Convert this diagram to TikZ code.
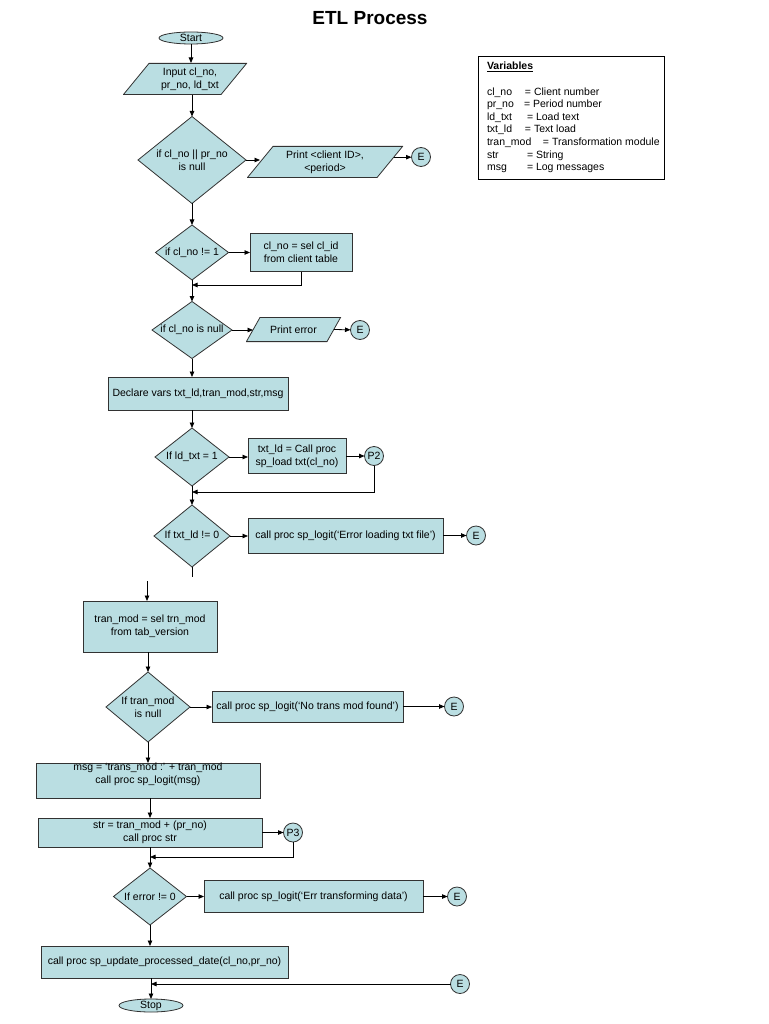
\documentclass[tikz,border=0pt]{standalone}
\usepackage{fontspec}
\setmainfont{Liberation Sans}
\usetikzlibrary{shapes.geometric,arrows.meta,calc}
\definecolor{boxc}{RGB}{186,222,226}
\definecolor{bordc}{RGB}{50,50,50}
\begin{document}
\begin{tikzpicture}[x=1pt,y=-1pt,
  every node/.style={font=\fontsize{10.5}{12.8}\selectfont, inner sep=0pt, outer sep=0pt},
  proc/.style={rectangle, draw=bordc, fill=boxc, line width=0.8pt, align=center},
  dec/.style={diamond, draw=bordc, fill=boxc, line width=0.8pt},
  para/.style={rectangle, align=center, path picture={
    \filldraw[draw=bordc, fill=boxc, line width=0.8pt]
      ($(path picture bounding box.south west)+(0.4,-0.4)$) --
      ($(path picture bounding box.north west)+(#1,0.4)$) --
      ($(path picture bounding box.north east)+(-0.4,0.4)$) --
      ($(path picture bounding box.south east)+(-#1,-0.4)$) -- cycle;}},
  term/.style={ellipse, draw=bordc, fill=boxc, line width=0.8pt},
  conn/.style={circle, draw=bordc, fill=boxc, line width=0.8pt, minimum size=19pt},
  arr/.style={-{Triangle[length=5.5pt,width=4.5pt]}, line width=0.8pt, black},
  ln/.style={line width=0.8pt, black},
  txt/.style={align=center},
  vline/.style={anchor=base west}
]
\useasboundingbox (0,0) rectangle (768,1024);
\fill[white] (0,0) rectangle (768,1024);

\node[font=\bfseries\fontsize{19}{22}\selectfont] (title) at (370,18) {ETL Process};

% variables box
\node[draw=black, line width=0.8pt, fill=white, minimum width=186pt, minimum height=123pt] (vbox) at (571,117.5) {};
\node[vline] (v0) at (487,70) {\underline{\textbf{Variables}}};
\node[vline] (v1) at (487,95.5) {\makebox[38pt][l]{cl\_no}= Client number};
\node[vline] (v2) at (487,108) {\makebox[37pt][l]{pr\_no}= Period number};
\node[vline] (v3) at (487,120.5) {\makebox[40pt][l]{ld\_txt}= Load text};
\node[vline] (v4) at (487,133) {\makebox[38pt][l]{txt\_ld}= Text load};
\node[vline] (v5) at (487,146) {\makebox[56pt][l]{tran\_mod}= Transformation module};
\node[vline] (v6) at (487,158.5) {\makebox[40pt][l]{str}= String};
\node[vline] (v7) at (487,171) {\makebox[40pt][l]{msg}= Log messages};

% flow nodes
\node[term, minimum width=64pt, minimum height=12pt, label={center:Start}] (start) at (191,38) {};
\node[para=26, minimum width=124pt, minimum height=32pt, label={[txt,xshift=5pt]center:Input cl\_no,\\pr\_no, ld\_txt}] (inp) at (185,79) {};
\node[dec, minimum width=108pt, minimum height=87pt, label={[txt]center:if cl\_no || pr\_no\\is null}] (d1) at (192,160) {};
\node[para=26, minimum width=156pt, minimum height=32pt] (pp) at (325,162) {Print <client ID>,\\<period>};
\coordinate (ppL) at ($(pp.west)+(13,0)$);
\coordinate (ppBR) at ($(pp.south east)+(-26,0)$);
\node[conn] (e1) at (421,157) {E};

\node[dec, minimum width=73pt, minimum height=55pt, label={[txt]center:if cl\_no != 1}] (d2) at (192,252.5) {};
\node[proc, minimum width=102pt, minimum height=38pt] (b1) at (301,252.5) {cl\_no = sel cl\_id\\from client table};
\coordinate (j1) at (192,285);

\node[dec, minimum width=80pt, minimum height=57pt, label={[txt]center:if cl\_no is null}] (d3) at (192,330) {};
\node[para=14, minimum width=95pt, minimum height=25pt] (pe) at (293.5,329.5) {Print error};
\coordinate (peL) at ($(pe.west)+(7,0)$);
\coordinate (peR) at ($(pe.east)+(-7,0)$);
\node[conn] (e2) at (360,330) {E};

\node[proc, minimum width=180pt, minimum height=33pt] (decl) at (198,393.5) {Declare vars txt\_ld,tran\_mod,str,msg};

\node[dec, minimum width=74pt, minimum height=58pt, label={[txt]center:If ld\_txt = 1}] (d4) at (192,457) {};
\node[proc, minimum width=98pt, minimum height=35pt] (b2) at (297,456) {txt\_ld = Call proc\\sp\_load txt(cl\_no)};
\node[conn] (p2) at (374,456) {P2};
\coordinate (j2) at (192,492);

\node[dec, minimum width=76pt, minimum height=62pt, label={[txt]center:If txt\_ld != 0}] (d5) at (192,536) {};
\node[proc, minimum width=195pt, minimum height=35pt] (b3) at (345.5,535.5) {call proc sp\_logit(`Error loading txt file')};
\node[conn] (e3) at (476,535.5) {E};
\coordinate (t1) at (192,577);
\coordinate (t2) at (147,581);

\node[proc, minimum width=134pt, minimum height=51pt] (b4) at (150,626.5) {tran\_mod = sel trn\_mod\\from tab\_version};
\node[dec, minimum width=84pt, minimum height=70pt, label={[txt]center:If tran\_mod\\is null}] (d6) at (148,707) {};
\node[proc, minimum width=191pt, minimum height=31pt] (b5) at (307.5,706.5) {call proc sp\_logit(`No trans mod found')};
\node[conn] (e4) at (454,706.5) {E};

\node[proc, minimum width=224pt, minimum height=35pt, label={[txt,yshift=6pt]center:msg = `trans\_mod :' + tran\_mod\\call proc sp\_logit(msg)}] (b6) at (148,780.5) {};
\node[proc, minimum width=224pt, minimum height=29pt] (b7) at (150,832.5) {str = tran\_mod + (pr\_no)\\call proc str};
\node[conn] (p3) at (293,832.5) {P3};
\coordinate (j3) at (150,857);

\node[dec, minimum width=73pt, minimum height=57pt, label={[txt]center:If error != 0}] (d7) at (150,896.5) {};
\node[proc, minimum width=219pt, minimum height=32pt] (b8) at (313.5,896.5) {call proc sp\_logit(`Err transforming data')};
\node[conn] (e5) at (457,896.5) {E};

\node[proc, minimum width=247pt, minimum height=32pt] (b9) at (164.5,962) {call proc sp\_update\_processed\_date(cl\_no,pr\_no)};
\node[term, minimum width=64pt, minimum height=13pt, label={center:Stop}] (stop) at (151,1005.5) {};
\node[conn] (e6) at (460,984) {E};
\coordinate (j4) at (151,984);

% connectors
\draw[arr] (start.south) -- (start.south |- inp.north);
\draw[arr] (d1.north |- inp.south) -- (d1.north);
\draw[arr] (d1.east) -- (d1.east -| ppL);
\path (pp.north east) -- (ppBR) coordinate[pos=0.35] (ppo);
\draw[arr] (ppo) -- (ppo -| e1.west);
\draw[arr] (d1.south) -- (d2.north);
\draw[arr] (d2.east) -- (b1.west);
\draw[arr] (b1.south) |- (j1);
\draw[arr] (d2.south) -- (d3.north);
\draw[arr] (d3.east) -- (d3.east -| peL);
\draw[arr] (peR) -- (e2);
\draw[arr] (d3.south) -- (d3.south |- decl.north);
\draw[arr] (d4.north |- decl.south) -- (d4.north);
\draw[arr] (d4.east) -- (d4.east -| b2.west);
\draw[arr] (b2.east) -- (p2.west);
\draw[arr] (p2.south) |- (j2);
\draw[arr] (d4.south) -- (d5.north);
\draw[arr] (d5.east) -- (d5.east -| b3.west);
\draw[arr] (b3.east) -- (e3.west);
\draw[ln] (d5.south) -- (t1);
\draw[arr] (t2) -- (t2 |- b4.north);
\draw[arr] (d6.north |- b4.south) -- (d6.north);
\draw[arr] (d6.east) -- (d6.east -| b5.west);
\draw[arr] (b5.east) -- (e4.west);
\draw[arr] (d6.south) -- (d6.south |- b6.north);
\draw[arr] (b7.north |- b6.south) -- (b7.north);
\draw[arr] (b7.east) -- (p3.west);
\draw[arr] (p3.south) |- (j3);
\draw[arr] (d7.north |- b7.south) -- (d7.north);
\draw[arr] (d7.east) -- (d7.east -| b8.west);
\draw[arr] (b8.east) -- (e5.west);
\draw[arr] (d7.south) -- (d7.south |- b9.north);
\draw[arr] (stop.north |- b9.south) -- (stop.north);
\draw[arr] (e6) -- (j4);
\end{tikzpicture}
\end{document}
